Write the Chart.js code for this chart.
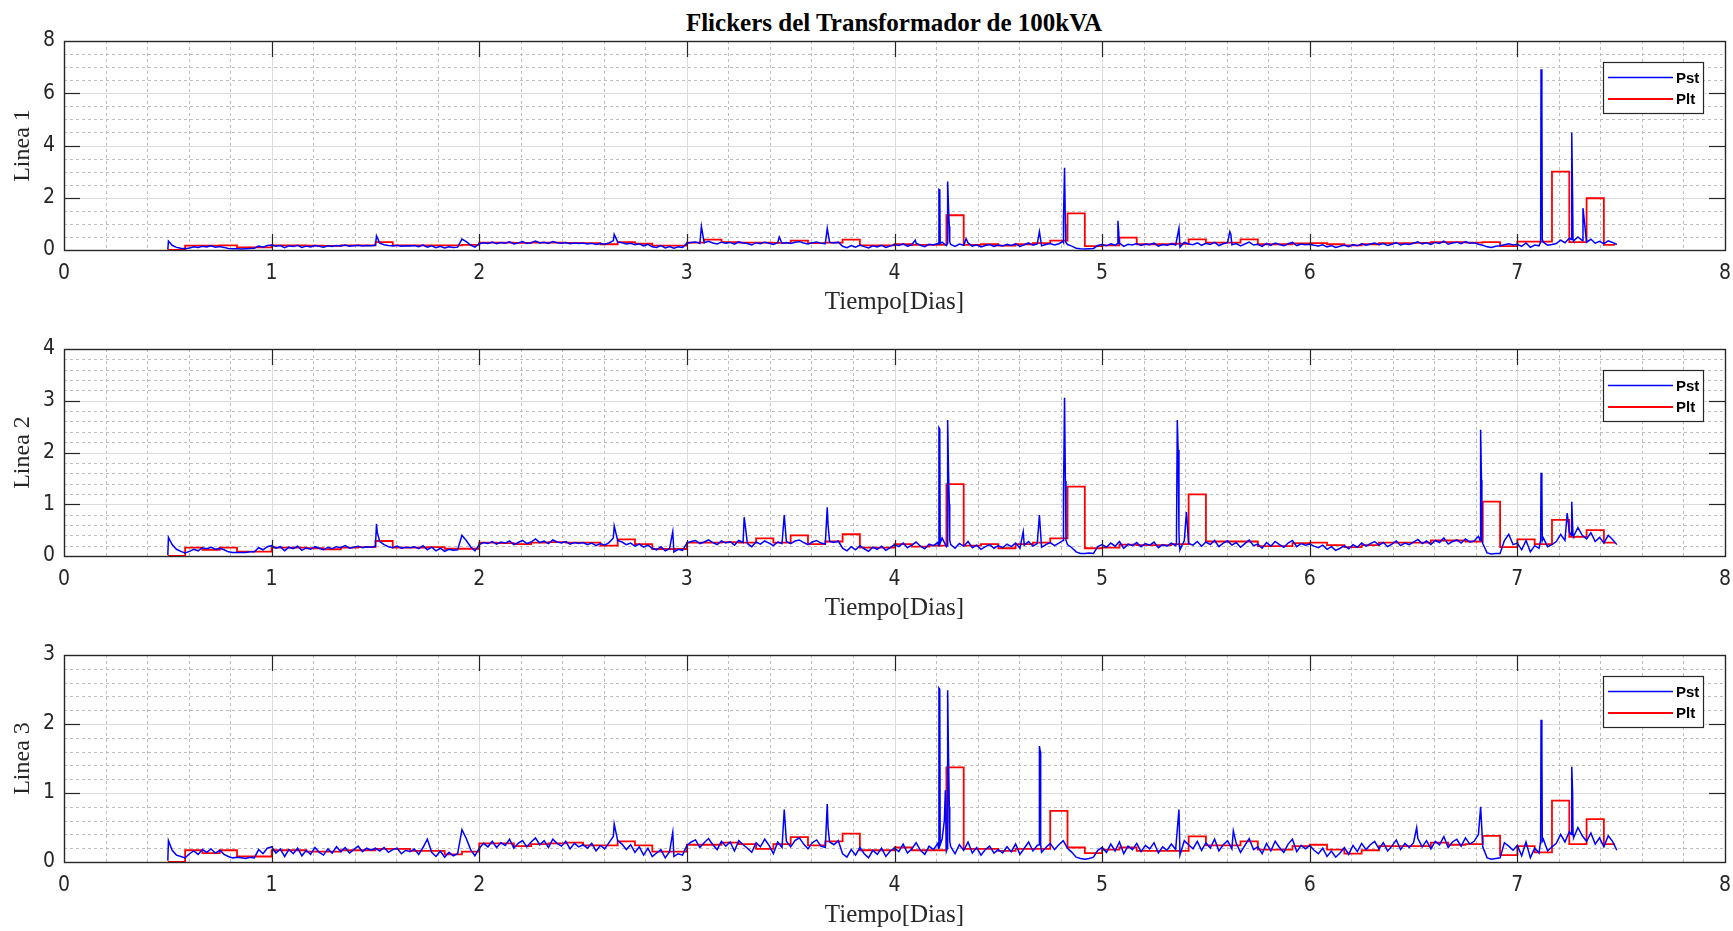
<!DOCTYPE html>
<html>
<head>
<meta charset="utf-8">
<title>Flickers del Transformador de 100kVA</title>
<script src="https://cdn.jsdelivr.net/npm/chart.js@4.4.1/dist/chart.umd.min.js"></script>
<style>
  body { margin: 0; background: #fff; width: 1733px; height: 931px; overflow: hidden; position: relative; }
  #titulo { position: absolute; left: 894px; top: 8px; transform: translateX(-50%); white-space: nowrap;
            font: bold 25px "Liberation Serif", serif; line-height: 30px; color: #000; }
  canvas { position: absolute; left: 0; }
</style>
</head>
<body>
<div id="titulo">Flickers del Transformador de 100kVA</div>
<canvas id="linea1" width="1733" height="320" style="top:0px"></canvas>
<canvas id="linea2" width="1733" height="306" style="top:320px"></canvas>
<canvas id="linea3" width="1733" height="305" style="top:626px"></canvas>
<script>
// Pst: una muestra cada 30 min desde el dia 0.5 (24 valores = medio dia por fila)
// Plt: un valor cada 2 horas desde el dia 0.5 (6 valores = medio dia por fila)
const inicio = 0.5;
const muestrasPorDia = 48;
const pltPorDia = 12;
const finPlt = 7.47;

const pstLinea1 = [
  0.02, 0.18, 0.10, 0.07, 0.05, 0.08, 0.12, 0.10, 0.14, 0.12, 0.16, 0.11, 0.13, 0.10, 0.06, 0.05, 0.05, 0.04, 0.05, 0.06, 0.07, 0.15, 0.11, 0.17,
  0.19, 0.14, 0.17, 0.09, 0.16, 0.13, 0.18, 0.10, 0.15, 0.12, 0.17, 0.14, 0.11, 0.16, 0.13, 0.17, 0.15, 0.19, 0.14, 0.16, 0.18, 0.15, 0.17, 0.16,
  0.18, 0.26, 0.20, 0.17, 0.15, 0.18, 0.14, 0.16, 0.15, 0.17, 0.13, 0.19, 0.11, 0.16, 0.09, 0.14, 0.08, 0.12, 0.10, 0.11, 0.42, 0.32, 0.19, 0.11,
  0.24, 0.28, 0.25, 0.30, 0.24, 0.29, 0.26, 0.31, 0.23, 0.27, 0.32, 0.25, 0.28, 0.34, 0.27, 0.30, 0.25, 0.32, 0.28, 0.26, 0.29, 0.24, 0.27, 0.25,
  0.27, 0.23, 0.26, 0.21, 0.25, 0.22, 0.27, 0.36, 0.31, 0.28, 0.23, 0.26, 0.20, 0.24, 0.16, 0.22, 0.12, 0.10, 0.17, 0.08, 0.13, 0.07, 0.12, 0.10,
  0.26, 0.29, 0.31, 0.25, 0.28, 0.33, 0.27, 0.23, 0.30, 0.26, 0.29, 0.22, 0.31, 0.27, 0.25, 0.19, 0.28, 0.24, 0.30, 0.26, 0.21, 0.28, 0.25, 0.29,
  0.25, 0.30, 0.32, 0.27, 0.23, 0.28, 0.31, 0.26, 0.24, 0.29, 0.27, 0.30, 0.14, 0.09, 0.17, 0.11, 0.19, 0.13, 0.08, 0.16, 0.12, 0.18, 0.10, 0.15,
  0.21, 0.17, 0.24, 0.15, 0.20, 0.26, 0.18, 0.13, 0.22, 0.19, 0.25, 0.30, 0.17, 0.21, 0.14, 0.23, 0.18, 0.27, 0.15, 0.20, 0.12, 0.17, 0.21, 0.14,
  0.19, 0.15, 0.22, 0.17, 0.24, 0.14, 0.20, 0.27, 0.18, 0.23, 0.16, 0.21, 0.25, 0.19, 0.24, 0.33, 0.21, 0.15, 0.07, 0.05, 0.04, 0.05, 0.06, 0.17,
  0.21, 0.16, 0.24, 0.18, 0.27, 0.14, 0.22, 0.19, 0.25, 0.17, 0.23, 0.20, 0.26, 0.15, 0.21, 0.18, 0.24, 0.19, 0.11, 0.29, 0.23, 0.20, 0.27, 0.18,
  0.26, 0.21, 0.29, 0.17, 0.24, 0.28, 0.20, 0.25, 0.16, 0.23, 0.30, 0.19, 0.22, 0.14, 0.25, 0.18, 0.27, 0.21, 0.16, 0.24, 0.29, 0.17, 0.23, 0.20,
  0.22, 0.18, 0.15, 0.20, 0.12, 0.17, 0.10, 0.14, 0.19, 0.13, 0.21, 0.16, 0.24, 0.18, 0.23, 0.27, 0.20, 0.25, 0.17, 0.22, 0.28, 0.19, 0.24, 0.21,
  0.26, 0.31, 0.23, 0.28, 0.21, 0.29, 0.25, 0.34, 0.22, 0.27, 0.30, 0.24, 0.32, 0.26, 0.28, 0.22, 0.18, 0.12, 0.10, 0.14, 0.16, 0.20, 0.24, 0.19,
  0.22, 0.14, 0.27, 0.10, 0.19, 0.16, 0.30, 0.18, 0.21, 0.25, 0.38, 0.28, 0.45, 0.35, 0.50, 0.36, 0.30, 0.41, 0.26, 0.33, 0.24, 0.35, 0.29, 0.21
];
const pstLinea2 = [
  0.02, 0.22, 0.13, 0.09, 0.06, 0.09, 0.13, 0.10, 0.16, 0.14, 0.17, 0.13, 0.15, 0.12, 0.08, 0.07, 0.07, 0.07, 0.07, 0.08, 0.08, 0.16, 0.12, 0.18,
  0.20, 0.15, 0.18, 0.10, 0.17, 0.14, 0.19, 0.11, 0.16, 0.13, 0.18, 0.15, 0.12, 0.17, 0.14, 0.18, 0.16, 0.20, 0.15, 0.17, 0.19, 0.16, 0.18, 0.17,
  0.19, 0.28, 0.22, 0.18, 0.16, 0.19, 0.15, 0.17, 0.16, 0.18, 0.14, 0.20, 0.12, 0.17, 0.10, 0.15, 0.09, 0.13, 0.11, 0.12, 0.40, 0.30, 0.18, 0.10,
  0.22, 0.26, 0.24, 0.28, 0.23, 0.27, 0.25, 0.29, 0.22, 0.26, 0.30, 0.24, 0.27, 0.33, 0.26, 0.29, 0.24, 0.31, 0.27, 0.25, 0.28, 0.23, 0.26, 0.24,
  0.26, 0.22, 0.25, 0.20, 0.24, 0.21, 0.26, 0.35, 0.30, 0.27, 0.22, 0.25, 0.19, 0.23, 0.17, 0.21, 0.15, 0.12, 0.18, 0.10, 0.14, 0.08, 0.13, 0.11,
  0.25, 0.28, 0.30, 0.24, 0.27, 0.31, 0.26, 0.22, 0.29, 0.25, 0.28, 0.21, 0.30, 0.26, 0.24, 0.18, 0.27, 0.23, 0.29, 0.25, 0.20, 0.27, 0.24, 0.28,
  0.24, 0.29, 0.31, 0.26, 0.22, 0.27, 0.30, 0.25, 0.23, 0.28, 0.26, 0.29, 0.15, 0.10, 0.18, 0.12, 0.20, 0.14, 0.09, 0.17, 0.13, 0.19, 0.11, 0.16,
  0.22, 0.18, 0.25, 0.16, 0.21, 0.27, 0.19, 0.14, 0.23, 0.20, 0.26, 0.35, 0.18, 0.22, 0.15, 0.24, 0.19, 0.28, 0.16, 0.21, 0.13, 0.18, 0.22, 0.15,
  0.20, 0.16, 0.23, 0.18, 0.25, 0.15, 0.21, 0.28, 0.19, 0.24, 0.17, 0.22, 0.26, 0.20, 0.25, 0.30, 0.22, 0.16, 0.08, 0.05, 0.05, 0.06, 0.05, 0.18,
  0.22, 0.17, 0.25, 0.19, 0.28, 0.15, 0.23, 0.20, 0.26, 0.18, 0.24, 0.21, 0.27, 0.16, 0.22, 0.19, 0.25, 0.20, 0.12, 0.30, 0.24, 0.21, 0.28, 0.19,
  0.27, 0.22, 0.30, 0.18, 0.25, 0.29, 0.21, 0.26, 0.17, 0.24, 0.31, 0.20, 0.23, 0.15, 0.26, 0.19, 0.28, 0.22, 0.17, 0.25, 0.30, 0.18, 0.24, 0.21,
  0.23, 0.19, 0.16, 0.21, 0.13, 0.18, 0.11, 0.15, 0.20, 0.14, 0.22, 0.17, 0.25, 0.19, 0.24, 0.28, 0.21, 0.26, 0.18, 0.23, 0.29, 0.20, 0.25, 0.22,
  0.27, 0.32, 0.24, 0.29, 0.22, 0.30, 0.26, 0.35, 0.23, 0.28, 0.31, 0.25, 0.33, 0.27, 0.29, 0.38, 0.24, 0.06, 0.04, 0.05, 0.05, 0.30, 0.42, 0.22,
  0.25, 0.12, 0.30, 0.08, 0.20, 0.15, 0.35, 0.18, 0.22, 0.28, 0.42, 0.30, 0.47, 0.38, 0.55, 0.40, 0.33, 0.45, 0.28, 0.36, 0.25, 0.40, 0.32, 0.22
];
const pstLinea3 = [
  0.02, 0.17, 0.10, 0.08, 0.06, 0.12, 0.16, 0.11, 0.18, 0.14, 0.19, 0.13, 0.17, 0.11, 0.08, 0.06, 0.07, 0.06, 0.05, 0.07, 0.06, 0.18, 0.12, 0.20,
  0.22, 0.13, 0.19, 0.08, 0.18, 0.12, 0.20, 0.09, 0.17, 0.11, 0.21, 0.14, 0.10, 0.19, 0.13, 0.22, 0.15, 0.21, 0.13, 0.18, 0.23, 0.15, 0.20, 0.17,
  0.20, 0.16, 0.21, 0.14, 0.18, 0.20, 0.12, 0.17, 0.15, 0.19, 0.11, 0.21, 0.33, 0.14, 0.08, 0.16, 0.07, 0.14, 0.09, 0.12, 0.47, 0.34, 0.18, 0.09,
  0.20, 0.27, 0.22, 0.30, 0.21, 0.28, 0.24, 0.33, 0.20, 0.27, 0.31, 0.22, 0.29, 0.35, 0.25, 0.31, 0.21, 0.33, 0.27, 0.23, 0.30, 0.19, 0.27, 0.22,
  0.25, 0.20, 0.27, 0.16, 0.24, 0.19, 0.28, 0.37, 0.31, 0.26, 0.18, 0.25, 0.14, 0.22, 0.10, 0.20, 0.08, 0.13, 0.18, 0.06, 0.15, 0.08, 0.12, 0.10,
  0.24, 0.29, 0.32, 0.21, 0.28, 0.34, 0.25, 0.18, 0.30, 0.23, 0.29, 0.16, 0.31, 0.25, 0.20, 0.14, 0.28, 0.22, 0.33, 0.24, 0.12, 0.29, 0.21, 0.30,
  0.22, 0.31, 0.35, 0.26, 0.19, 0.28, 0.32, 0.23, 0.21, 0.29, 0.25, 0.31, 0.12, 0.07, 0.18, 0.10, 0.21, 0.12, 0.06, 0.17, 0.11, 0.20, 0.08, 0.16,
  0.20, 0.15, 0.26, 0.13, 0.19, 0.28, 0.17, 0.11, 0.23, 0.18, 0.27, 0.33, 0.16, 0.22, 0.12, 0.25, 0.17, 0.29, 0.13, 0.21, 0.10, 0.18, 0.23, 0.13,
  0.18, 0.13, 0.22, 0.15, 0.26, 0.11, 0.20, 0.29, 0.16, 0.24, 0.14, 0.21, 0.27, 0.18, 0.25, 0.31, 0.20, 0.14, 0.07, 0.05, 0.04, 0.05, 0.07, 0.17,
  0.21, 0.14, 0.26, 0.16, 0.29, 0.12, 0.23, 0.18, 0.27, 0.15, 0.24, 0.19, 0.28, 0.13, 0.22, 0.17, 0.26, 0.18, 0.10, 0.31, 0.25, 0.19, 0.30, 0.17,
  0.28, 0.20, 0.33, 0.16, 0.25, 0.31, 0.19, 0.27, 0.14, 0.24, 0.34, 0.18, 0.22, 0.12, 0.27, 0.16, 0.30, 0.21, 0.14, 0.26, 0.33, 0.15, 0.24, 0.19,
  0.24, 0.17, 0.12, 0.20, 0.08, 0.16, 0.07, 0.13, 0.21, 0.11, 0.24, 0.15, 0.27, 0.18, 0.25, 0.30, 0.19, 0.28, 0.16, 0.23, 0.32, 0.18, 0.27, 0.21,
  0.28, 0.34, 0.22, 0.31, 0.19, 0.30, 0.25, 0.37, 0.21, 0.29, 0.33, 0.23, 0.35, 0.26, 0.30, 0.40, 0.22, 0.06, 0.04, 0.05, 0.06, 0.28, 0.23, 0.17,
  0.24, 0.09, 0.29, 0.06, 0.20, 0.13, 0.33, 0.16, 0.22, 0.27, 0.40, 0.29, 0.44, 0.35, 0.50, 0.38, 0.30, 0.42, 0.26, 0.35, 0.22, 0.38, 0.30, 0.17
];

// picos angostos de Pst (dia, valor) que caen entre dos muestras, con su base
const picosDia1 = [0.503, 1.505, 2.650, 3.070, 3.445, 3.676, 4.100,
                   4.212, 4.214, 4.218, 4.220, 4.254, 4.256, 4.260, 4.264, 4.266, 4.345, 4.698,
                   4.813, 4.815, 4.819, 4.823, 4.825, 5.074, 5.076, 5.080, 5.082, 5.370, 5.615, 5.620,
                   7.112, 7.114, 7.118, 7.120, 7.260, 7.262, 7.266, 7.268, 7.316];
const picosPst1 = [0.34, 0.54, 0.60, 0.90, 0.50, 0.83, 0.38,
                   0.22, 2.32, 2.30, 0.25, 0.25, 2.62, 1.66, 0.90, 0.30, 0.43, 0.70,
                   0.30, 1.20, 3.15, 1.00, 0.30, 0.25, 1.12, 0.70, 0.25, 0.83, 0.70, 0.60,
                   0.30, 6.92, 5.55, 0.40, 0.40, 4.50, 2.00, 0.40, 1.60];
const picosDia2 = [0.503, 1.505, 1.509, 2.650, 2.932, 3.276, 3.469, 3.676, 3.680,
                   4.212, 4.214, 4.218, 4.220, 4.254, 4.256, 4.260, 4.264, 4.266, 4.620, 4.698,
                   4.813, 4.815, 4.819, 4.823, 4.826, 5.358, 5.362, 5.366, 5.370, 5.372, 5.406,
                   6.821, 6.823, 6.827, 6.829, 7.112, 7.114, 7.118, 7.120, 7.240, 7.260, 7.262, 7.266, 7.268];
const picosPst2 = [0.36, 0.62, 0.45, 0.58, 0.47, 0.75, 0.79, 0.94, 0.60,
                   0.20, 2.48, 2.45, 0.25, 0.20, 2.63, 1.66, 1.00, 0.30, 0.47, 0.79,
                   0.30, 1.20, 3.06, 1.45, 0.30, 0.25, 2.63, 2.05, 0.50, 0.20, 0.85,
                   0.30, 2.44, 1.47, 0.30, 0.30, 1.61, 1.32, 0.30, 0.83, 0.40, 1.05, 0.60, 0.40];
const picosDia3 = [0.503, 2.650, 2.932, 3.469, 3.676, 3.680,
                   4.212, 4.214, 4.218, 4.220, 4.240, 4.245, 4.254, 4.256, 4.260, 4.264, 4.266,
                   4.696, 4.698, 4.702, 4.704, 5.370, 5.632, 6.515, 6.823,
                   7.112, 7.114, 7.118, 7.120, 7.260, 7.262, 7.266, 7.268];
const picosPst3 = [0.31, 0.55, 0.43, 0.76, 0.84, 0.50,
                   0.20, 2.52, 2.50, 0.25, 0.60, 1.04, 0.20, 2.49, 1.57, 0.80, 0.30,
                   0.25, 1.68, 1.60, 0.25, 0.76, 0.45, 0.50, 0.80,
                   0.30, 2.06, 1.68, 0.30, 0.40, 1.38, 1.00, 0.40];

const pltLinea1 = [
  0, 0.17, 0.17, 0.18, 0.10, 0.10,
  0.18, 0.18, 0.17, 0.16, 0.18, 0.18,
  0.30, 0.18, 0.18, 0.18, 0.18, 0.20,
  0.28, 0.28, 0.27, 0.28, 0.28, 0.27,
  0.26, 0.22, 0.30, 0.24, 0.17, 0.17,
  0.28, 0.40, 0.30, 0.28, 0.28, 0.27,
  0.36, 0.26, 0.28, 0.40, 0.18, 0.18,
  0.22, 0.20, 0.20, 1.33, 0.20, 0.22,
  0.17, 0.22, 0.26, 0.36, 1.40, 0.15,
  0.18, 0.47, 0.22, 0.22, 0.24, 0.41,
  0.28, 0.28, 0.41, 0.22, 0.22, 0.25,
  0.26, 0.22, 0.18, 0.22, 0.26, 0.26,
  0.27, 0.30, 0.30, 0.28, 0.30, 0.15,
  0.32, 0.32, 3.00, 0.30, 1.98, 0.20
];
const pltLinea2 = [
  0, 0.16, 0.12, 0.16, 0.085, 0.085,
  0.16, 0.16, 0.15, 0.13, 0.16, 0.17,
  0.29, 0.16, 0.16, 0.17, 0.14, 0.14,
  0.26, 0.25, 0.23, 0.26, 0.27, 0.26,
  0.26, 0.20, 0.32, 0.23, 0.135, 0.135,
  0.26, 0.26, 0.27, 0.26, 0.34, 0.26,
  0.40, 0.23, 0.28, 0.42, 0.16, 0.16,
  0.23, 0.18, 0.20, 1.39, 0.20, 0.23,
  0.15, 0.23, 0.26, 0.34, 1.34, 0.15,
  0.16, 0.22, 0.21, 0.21, 0.23, 1.19,
  0.28, 0.28, 0.28, 0.19, 0.19, 0.25,
  0.26, 0.21, 0.17, 0.21, 0.26, 0.26,
  0.26, 0.30, 0.30, 0.28, 1.05, 0.17,
  0.32, 0.23, 0.70, 0.37, 0.50, 0.26
];
const pltLinea3 = [
  0, 0.17, 0.13, 0.17, 0.08, 0.08,
  0.17, 0.17, 0.15, 0.15, 0.17, 0.17,
  0.19, 0.19, 0.16, 0.16, 0.11, 0.15,
  0.27, 0.27, 0.23, 0.26, 0.27, 0.28,
  0.24, 0.24, 0.30, 0.24, 0.15, 0.15,
  0.25, 0.25, 0.28, 0.26, 0.19, 0.26,
  0.36, 0.24, 0.30, 0.41, 0.17, 0.17,
  0.21, 0.17, 0.17, 1.37, 0.19, 0.19,
  0.16, 0.19, 0.19, 0.74, 0.21, 0.13,
  0.18, 0.21, 0.16, 0.16, 0.16, 0.37,
  0.24, 0.24, 0.30, 0.18, 0.18, 0.23,
  0.25, 0.18, 0.12, 0.17, 0.23, 0.23,
  0.23, 0.28, 0.25, 0.26, 0.38, 0.10,
  0.23, 0.14, 0.89, 0.26, 0.62, 0.26
];

const colorEje = '#262626';
const fuenteTicks = { family: '"Liberation Sans Narrow", "DejaVu Sans Condensed", sans-serif', size: 21 };

// rejilla estilo MATLAB: menor punteada, mayor continua
const rejillaMatlab = {
  id: 'rejillaMatlab',
  beforeDatasetsDraw(chart, args, opts) {
    const { ctx, chartArea: a, scales: { x, y } } = chart;
    const linea = (x1, y1, x2, y2) => { ctx.beginPath(); ctx.moveTo(x1, y1); ctx.lineTo(x2, y2); ctx.stroke(); };
    const menores = (escala, paso, div) => {
      const v = [], n = Math.round((escala.max - escala.min) / paso * div);
      for (let i = 1; i < n; i++) if (i % div !== 0) v.push(escala.min + i * paso / div);
      return v;
    };
    const mayores = (escala, paso) => {
      const v = [], n = Math.round((escala.max - escala.min) / paso);
      for (let i = 1; i < n; i++) v.push(escala.min + i * paso);
      return v;
    };
    ctx.save();
    ctx.lineWidth = 1;
    ctx.strokeStyle = '#bdbdbd';
    ctx.setLineDash([3, 3]);
    menores(x, 1, opts.divX).forEach(v => { const p = Math.round(x.getPixelForValue(v)) + 0.5; linea(p, a.top, p, a.bottom); });
    menores(y, opts.pasoY, opts.divY).forEach(v => { const p = Math.round(y.getPixelForValue(v)) + 0.5; linea(a.left, p, a.right, p); });
    ctx.setLineDash([]);
    ctx.strokeStyle = '#dcdcdc';
    mayores(x, 1).forEach(v => { const p = Math.round(x.getPixelForValue(v)) + 0.5; linea(p, a.top, p, a.bottom); });
    mayores(y, opts.pasoY).forEach(v => { const p = Math.round(y.getPixelForValue(v)) + 0.5; linea(a.left, p, a.right, p); });
    ctx.restore();
  },
  afterDatasetsDraw(chart, args, opts) {
    const { ctx, chartArea: a, scales: { x, y } } = chart;
    const linea = (x1, y1, x2, y2) => { ctx.beginPath(); ctx.moveTo(x1, y1); ctx.lineTo(x2, y2); ctx.stroke(); };
    const largo = 16;
    ctx.save();
    ctx.strokeStyle = colorEje;
    ctx.lineWidth = 1.2;
    for (let v = 1; v < 8; v++) {
      const p = Math.round(x.getPixelForValue(v)) + 0.5;
      linea(p, a.bottom, p, a.bottom - largo);
      linea(p, a.top, p, a.top + largo);
    }
    const n = Math.round(y.max / opts.pasoY);
    for (let i = 1; i < n; i++) {
      const p = Math.round(y.getPixelForValue(i * opts.pasoY)) + 0.5;
      linea(a.left, p, a.left + largo, p);
      linea(a.right, p, a.right - largo, p);
    }
    ctx.lineWidth = 1.4;
    ctx.strokeRect(Math.round(a.left) + 0.5, Math.round(a.top) + 0.5, Math.round(a.right - a.left), Math.round(a.bottom - a.top));
    ctx.restore();
  }
};

// leyenda dentro del area, esquina superior derecha
const leyendaMatlab = {
  id: 'leyendaMatlab',
  afterDraw(chart) {
    const { ctx, chartArea: a } = chart;
    const ancho = 100, alto = 51;
    const x0 = Math.round(a.right - 122), y0 = Math.round(a.top + 21);
    ctx.save();
    ctx.fillStyle = '#fff';
    ctx.fillRect(x0, y0, ancho, alto);
    ctx.strokeStyle = colorEje;
    ctx.lineWidth = 1.2;
    ctx.strokeRect(x0 + 0.5, y0 + 0.5, ancho, alto);
    chart.data.datasets.forEach((ds, i) => {
      const yy = y0 + 15.5 + i * 21.5;
      ctx.strokeStyle = ds.borderColor;
      ctx.lineWidth = ds.borderWidth;
      ctx.beginPath(); ctx.moveTo(x0 + 5, yy); ctx.lineTo(x0 + 70, yy); ctx.stroke();
      ctx.fillStyle = '#000';
      ctx.font = 'bold 15px "Liberation Sans"';
      ctx.textBaseline = 'middle';
      ctx.fillText(ds.label, x0 + 73, yy + 1);
    });
    ctx.restore();
  }
};

function crearPanel(id, etiqueta, maxY, pasoY, divY, pst, picosDia, picosPst, plt, margenSup, altoEjeX, padTitulo) {
  const puntosPst = pst.map((v, i) => ({ x: inicio + i / muestrasPorDia, y: v }));
  picosDia.forEach((d, i) => puntosPst.push({ x: d, y: picosPst[i] }));
  puntosPst.sort((p, q) => p.x - q.x);
  const puntosPlt = plt.map((v, k) => ({ x: inicio + k / pltPorDia, y: v }));
  puntosPlt.push({ x: finPlt, y: plt[plt.length - 1] });

  return new Chart(document.getElementById(id), {
    type: 'line',
    data: {
      datasets: [
        { label: 'Pst', data: puntosPst, borderColor: '#0000ff', borderWidth: 1.5, pointRadius: 0, tension: 0 },
        { label: 'Plt', data: puntosPlt, borderColor: '#ff0000', borderWidth: 1.8, pointRadius: 0, stepped: true }
      ]
    },
    options: {
      responsive: false,
      animation: false,
      events: [],
      layout: { padding: { top: margenSup, right: 8, left: 0, bottom: 0 } },
      plugins: {
        legend: { display: false },
        tooltip: { enabled: false },
        rejillaMatlab: { divX: 5, pasoY: pasoY, divY: divY }
      },
      scales: {
        x: {
          type: 'linear', min: 0, max: 8,
          grid: { display: false, drawTicks: false },
          border: { display: false },
          ticks: { stepSize: 1, padding: 11, color: colorEje, font: fuenteTicks },
          title: { display: true, text: 'Tiempo[Dias]', color: colorEje,
                   font: { family: 'Liberation Serif', size: 25 }, padding: { top: 0, bottom: padTitulo } },
          afterFit(s) { s.height = altoEjeX; s.paddingLeft = 0; s.paddingRight = 0; }
        },
        y: {
          min: 0, max: maxY,
          grid: { display: false, drawTicks: false },
          border: { display: false },
          ticks: { stepSize: pasoY, padding: 9, color: colorEje, font: fuenteTicks },
          title: { display: true, text: etiqueta, color: colorEje,
                   font: { family: 'Liberation Serif', size: 24 }, padding: { top: 8, bottom: 0 } },
          afterFit(s) { s.width = 64; s.paddingTop = 0; s.paddingBottom = 0; }
        }
      }
    },
    plugins: [rejillaMatlab, leyendaMatlab]
  });
}

crearPanel('linea1', 'Linea 1', 8, 2, 4, pstLinea1, picosDia1, picosPst1, pltLinea1, 41, 70, 3);
crearPanel('linea2', 'Linea 2', 4, 1, 5, pstLinea2, picosDia2, picosPst2, pltLinea2, 29, 70, 3);
crearPanel('linea3', 'Linea 3', 3, 1, 5, pstLinea3, picosDia3, picosPst3, pltLinea3, 29, 69, 1);
</script>
</body>
</html>
